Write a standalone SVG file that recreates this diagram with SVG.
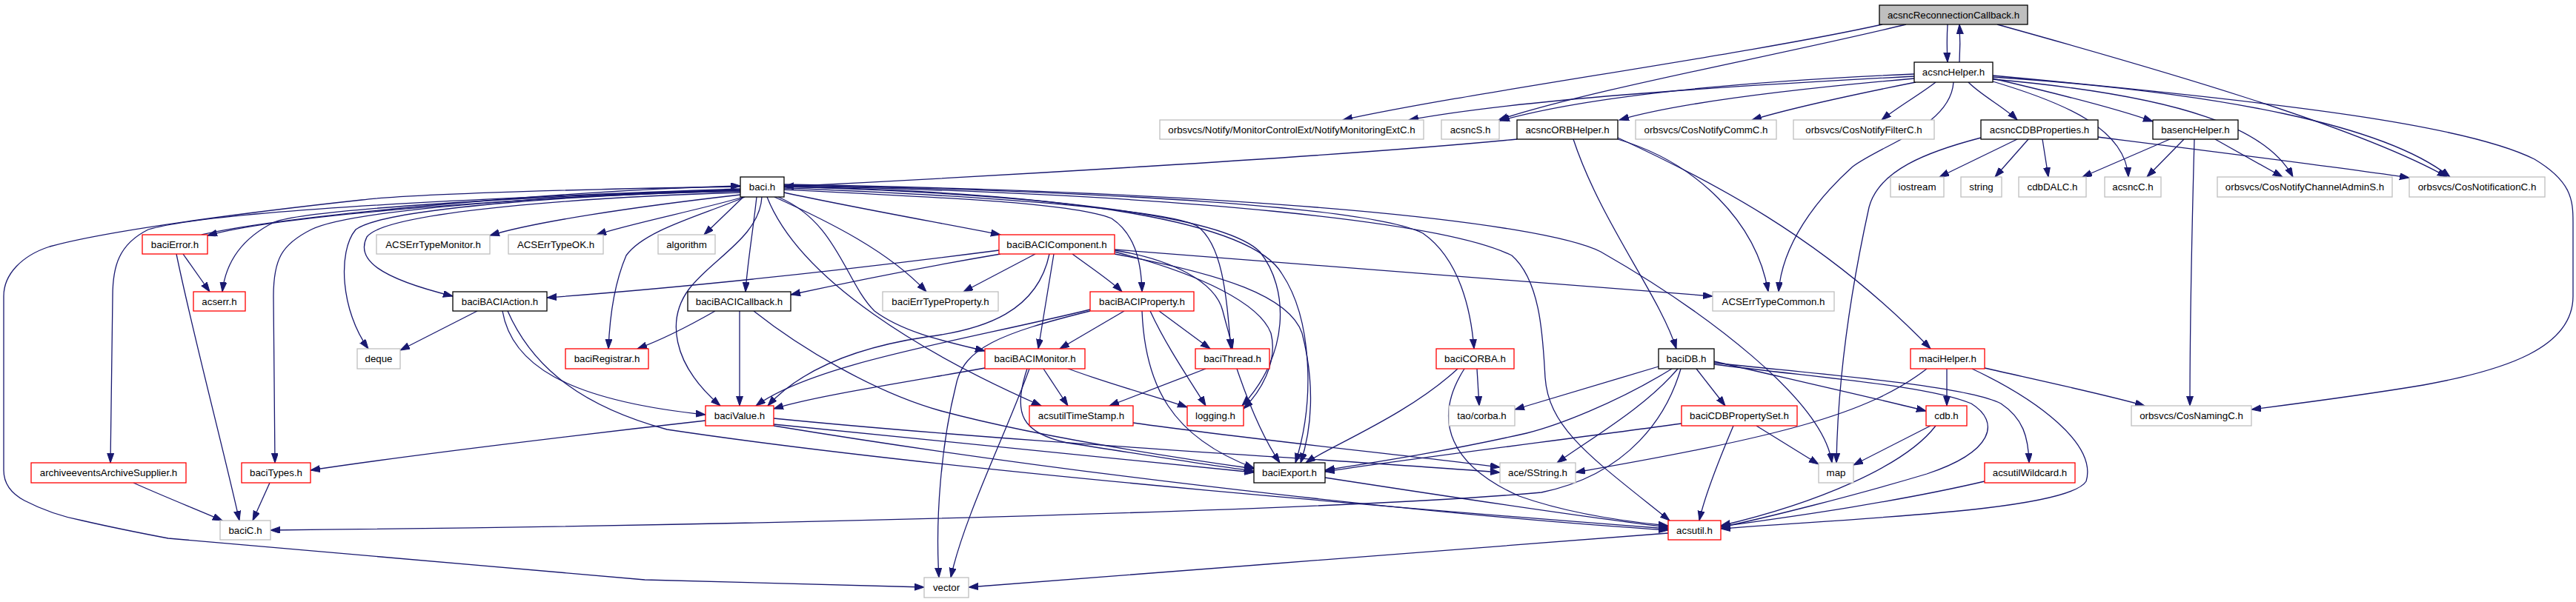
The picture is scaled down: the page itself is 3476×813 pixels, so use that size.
<svg xmlns="http://www.w3.org/2000/svg" width="3476" height="813" viewBox="0 0 3476 813">
<style>
.e{fill:none;stroke:#191970;stroke-width:1.3}
.k{fill:#fff;stroke:#000;stroke-width:1.3}
.r{fill:#fff;stroke:#ff0000;stroke-width:1.3}
.g{fill:#fff;stroke:#bfbfbf;stroke-width:1.3}
.root{fill:#bfbfbf;stroke:#000;stroke-width:1.3}
text{font-family:"Liberation Sans",Arial,sans-serif;font-size:13.3px;text-anchor:middle;fill:#000}
</style>
<defs>
<marker id="a" markerUnits="userSpaceOnUse" markerWidth="14" markerHeight="10" refX="13" refY="4.5" orient="auto"><path d="M0,0 L13,4.5 L0,9 z" fill="#191970" stroke="#191970" stroke-width="1"/></marker>
</defs>
<rect width="3476" height="813" fill="#fff"/>
<g id="edges" marker-end="url(#a)">
<path class="e" d="M2628,33 C2627,50 2627,65 2628,84"/>
<path class="e" d="M2644,84 C2645,67 2645,50 2644,33"/>
<path class="e" d="M2540,33 C2350,75 1980,125 1812,162"/>
<path class="e" d="M2572,33 C2400,75 2150,120 2022,162"/>
<path class="e" d="M2695,33 C2900,90 3180,170 3302,239"/>
<path class="e" d="M2583,103 C2300,118 2050,135 1901,162"/>
<path class="e" d="M2583,100 C2350,110 2150,128 2024,163"/>
<path class="e" d="M2583,106 C2400,122 2260,140 2185,162"/>
<path class="e" d="M2585,111 C2490,130 2410,148 2364,162"/>
<path class="e" d="M2612,111 C2590,128 2560,145 2539,162"/>
<path class="e" d="M2656,111 C2675,130 2705,145 2722,162"/>
<path class="e" d="M2689,106 C2770,125 2860,148 2905,164"/>
<path class="e" d="M2689,110 C2790,140 2868,175 2872,239"/>
<path class="e" d="M2689,107 C2950,130 3060,175 3094,239"/>
<path class="e" d="M2689,104 C3000,125 3220,170 3306,239"/>
<path class="e" d="M2689,102 C3100,140 3330,170 3420,215 C3470,245 3472,270 3472,300 L3472,400 C3472,470 3380,500 3270,520 C3180,535 3100,545 3038,553"/>
<path class="e" d="M2636,111 C2632,170 2540,195 2500,225 C2450,270 2405,330 2400,394"/>
<path class="e" d="M2673,186 C2600,205 2535,230 2522,280 C2500,380 2480,500 2478,625"/>
<path class="e" d="M2722,188 L2617,239"/>
<path class="e" d="M2737,188 L2692,239"/>
<path class="e" d="M2756,188 L2764,239"/>
<path class="e" d="M2831,185 C2950,200 3150,225 3251,240"/>
<path class="e" d="M2928,188 L2810,239"/>
<path class="e" d="M2947,188 L2897,239"/>
<path class="e" d="M2989,188 L3080,239"/>
<path class="e" d="M2961,188 C2958,300 2955,450 2955,548"/>
<path class="e" d="M2047,188 C1800,212 1300,240 1058,252"/>
<path class="e" d="M2123,188 C2160,300 2240,400 2262,471"/>
<path class="e" d="M2183,188 C2290,220 2370,300 2386,394"/>
<path class="e" d="M2183,186 C2300,240 2460,320 2605,471"/>
<path class="e" d="M999,258 C800,262 400,285 280,318"/>
<path class="e" d="M272,317 C400,288 800,256 999,251"/>
<path class="e" d="M999,252 C800,255 550,262 488,270 C350,285 150,310 67,333 C30,345 5,370 5,400 L5,635 C5,655 18,668 33,676 C60,690 85,698 111,703 C150,712 190,720 227,727 L870,783 L1247,793"/>
<path class="e" d="M999,255 C800,262 300,280 200,310 C160,330 152,360 152,400 L149,625"/>
<path class="e" d="M999,256 C800,262 420,280 370,300 C330,320 305,350 300,394"/>
<path class="e" d="M999,258 C800,262 520,280 480,310 C455,340 460,420 497,471"/>
<path class="e" d="M999,260 C800,266 520,285 495,320 C480,350 510,375 611,400"/>
<path class="e" d="M999,257 C800,262 480,280 420,310 C380,330 369,350 369,400 L371,625"/>
<path class="e" d="M999,263 C850,280 720,300 661,318"/>
<path class="e" d="M1003,266 C950,282 850,302 805,317"/>
<path class="e" d="M1005,266 C950,290 870,310 845,345 C830,380 823,420 821,471"/>
<path class="e" d="M1003,266 L950,317"/>
<path class="e" d="M1021,266 C1015,320 1008,360 1006,394"/>
<path class="e" d="M1028,266 C1025,320 960,350 930,390 C900,430 905,490 972,548"/>
<path class="e" d="M1045,266 C1120,300 1200,340 1250,394"/>
<path class="e" d="M1058,260 C1150,280 1280,303 1350,317"/>
<path class="e" d="M1035,266 C1080,380 1250,480 1405,548"/>
<path class="e" d="M1050,266 C1130,300 1140,380 1180,420 C1220,450 1280,462 1329,474"/>
<path class="e" d="M1058,256 C1300,268 1450,275 1500,295 C1530,315 1540,350 1541,394"/>
<path class="e" d="M1058,254 C1350,265 1580,285 1615,305 C1650,330 1655,400 1661,471"/>
<path class="e" d="M1058,252 C1400,262 1650,290 1700,340 C1740,390 1740,480 1676,548"/>
<path class="e" d="M1058,252 C1450,260 1690,300 1730,370 C1770,430 1775,540 1748,625"/>
<path class="e" d="M1058,250 C1500,258 1850,280 1920,315 C1970,350 1985,420 1989,471"/>
<path class="e" d="M1058,251 C1600,262 1950,300 2040,345 C2080,380 2082,460 2085,510 C2090,580 2150,620 2253,703"/>
<path class="e" d="M1058,249 C1700,260 2080,300 2160,340 C2300,420 2460,540 2472,625"/>
<path class="e" d="M247,343 L283,394"/>
<path class="e" d="M238,343 C260,450 300,600 323,703"/>
<path class="e" d="M180,652 C220,670 270,690 300,703"/>
<path class="e" d="M364,652 L341,703"/>
<path class="e" d="M644,420 L540,473"/>
<path class="e" d="M678,420 C690,490 760,540 952,560"/>
<path class="e" d="M685,420 C720,500 790,550 900,580 C1300,640 2000,695 2251,714"/>
<path class="e" d="M965,420 C930,440 890,460 860,471"/>
<path class="e" d="M998,420 L998,548"/>
<path class="e" d="M1017,420 C1080,470 1180,530 1270,555 C1400,590 1600,620 1692,633"/>
<path class="e" d="M1348,338 C1100,370 900,390 738,402"/>
<path class="e" d="M1350,343 C1250,360 1150,380 1067,398"/>
<path class="e" d="M1397,343 L1300,394"/>
<path class="e" d="M1447,343 C1470,360 1500,380 1514,394"/>
<path class="e" d="M1422,343 L1401,471"/>
<path class="e" d="M1416,343 C1400,420 1330,445 1250,455 C1150,470 1080,500 1036,548"/>
<path class="e" d="M1504,338 C1580,350 1640,380 1650,420 C1655,440 1660,455 1663,471"/>
<path class="e" d="M1504,340 C1620,370 1700,410 1715,450 C1725,490 1700,530 1678,552"/>
<path class="e" d="M1504,343 C1650,370 1740,400 1757,450 C1775,520 1770,580 1755,625"/>
<path class="e" d="M1504,337 C1800,360 2100,385 2311,400"/>
<path class="e" d="M1517,420 L1430,471"/>
<path class="e" d="M1564,420 L1633,471"/>
<path class="e" d="M1552,420 C1575,470 1610,520 1627,548"/>
<path class="e" d="M1541,420 C1545,520 1580,590 1692,632"/>
<path class="e" d="M1471,418 C1300,460 1100,490 1020,548"/>
<path class="e" d="M1471,420 C1350,450 1300,470 1290,520 C1270,600 1262,700 1267,780"/>
<path class="e" d="M1329,497 C1200,520 1100,535 1044,552"/>
<path class="e" d="M1408,498 L1441,548"/>
<path class="e" d="M1439,497 C1500,520 1560,535 1602,550"/>
<path class="e" d="M1389,498 C1360,580 1300,700 1283,780"/>
<path class="e" d="M1386,498 C1365,560 1380,585 1440,598 C1550,615 1640,630 1692,636"/>
<path class="e" d="M1627,498 L1497,548"/>
<path class="e" d="M1669,498 C1690,560 1710,600 1727,625"/>
<path class="e" d="M952,568 C800,585 550,615 419,635"/>
<path class="e" d="M1044,573 C1300,600 1550,625 1692,638"/>
<path class="e" d="M1044,565 C1400,600 1800,620 2024,638"/>
<path class="e" d="M1044,575 C1500,650 2000,700 2251,716"/>
<path class="e" d="M1529,571 C1700,595 1900,615 2024,631"/>
<path class="e" d="M1788,645 C1950,670 2150,700 2251,712"/>
<path class="e" d="M1993,498 L1996,548"/>
<path class="e" d="M1967,498 C1900,560 1800,600 1762,625"/>
<path class="e" d="M1976,498 C1930,570 1960,630 2050,670 C2120,695 2200,705 2251,710"/>
<path class="e" d="M2238,495 L2044,553"/>
<path class="e" d="M2256,498 C2180,545 2100,575 2060,585 C1950,610 1850,625 1788,635"/>
<path class="e" d="M2264,498 C2220,550 2150,590 2101,625"/>
<path class="e" d="M2268,498 C2250,560 2200,640 2080,665 C1800,690 1000,710 365,716"/>
<path class="e" d="M2289,498 L2328,548"/>
<path class="e" d="M2313,488 C2450,520 2540,540 2599,555"/>
<path class="e" d="M2313,490 C2450,505 2650,520 2700,545 C2730,565 2737,590 2738,625"/>
<path class="e" d="M2313,492 C2450,510 2600,520 2660,545 C2700,570 2690,610 2600,640 C2500,670 2380,700 2322,712"/>
<path class="e" d="M2269,572 C2100,595 1900,620 1788,637"/>
<path class="e" d="M2339,575 C2320,620 2300,670 2293,703"/>
<path class="e" d="M2370,575 L2454,627"/>
<path class="e" d="M2605,575 L2501,628"/>
<path class="e" d="M2612,575 C2570,630 2450,680 2322,710"/>
<path class="e" d="M2627,498 L2627,548"/>
<path class="e" d="M2600,498 C2520,560 2400,590 2126,638"/>
<path class="e" d="M2661,498 C2750,540 2830,600 2815,650 C2790,690 2500,700 2322,714"/>
<path class="e" d="M2678,497 C2780,520 2850,535 2894,548"/>
<path class="e" d="M2678,650 C2550,680 2400,700 2322,711"/>
<path class="e" d="M2251,720 C2000,740 1600,770 1307,793"/>
</g>
<g id="n1"><rect class="root" x="2536" y="7" width="200" height="26"/><text x="2636" y="25">acsncReconnectionCallback.h</text></g>
<g id="n2"><rect class="k" x="2583" y="84" width="106" height="27"/><text x="2636" y="102">acsncHelper.h</text></g>
<g id="n3"><rect class="g" x="1565" y="162" width="356" height="26"/><text x="1743" y="180">orbsvcs/Notify/MonitorControlExt/NotifyMonitoringExtC.h</text></g>
<g id="n4"><rect class="g" x="1945" y="162" width="78" height="26"/><text x="1984" y="180">acsncS.h</text></g>
<g id="n5"><rect class="k" x="2047" y="162" width="136" height="26"/><text x="2115" y="180">acsncORBHelper.h</text></g>
<g id="n6"><rect class="g" x="2207" y="162" width="190" height="26"/><text x="2302" y="180">orbsvcs/CosNotifyCommC.h</text></g>
<g id="n7"><rect class="g" x="2420" y="162" width="190" height="26"/><text x="2515" y="180">orbsvcs/CosNotifyFilterC.h</text></g>
<g id="n8"><rect class="k" x="2673" y="162" width="158" height="26"/><text x="2752" y="180">acsncCDBProperties.h</text></g>
<g id="n9"><rect class="k" x="2905" y="162" width="115" height="26"/><text x="2962.5" y="180">basencHelper.h</text></g>
<g id="n10"><rect class="k" x="999" y="239" width="59" height="27"/><text x="1028.5" y="257">baci.h</text></g>
<g id="n11"><rect class="g" x="2551" y="239" width="72" height="27"/><text x="2587" y="257">iostream</text></g>
<g id="n12"><rect class="g" x="2646" y="239" width="55" height="27"/><text x="2673.5" y="257">string</text></g>
<g id="n13"><rect class="g" x="2724" y="239" width="91" height="27"/><text x="2769.5" y="257">cdbDALC.h</text></g>
<g id="n14"><rect class="g" x="2840" y="239" width="76" height="27"/><text x="2878" y="257">acsncC.h</text></g>
<g id="n15"><rect class="g" x="2992" y="239" width="236" height="27"/><text x="3110" y="257">orbsvcs/CosNotifyChannelAdminS.h</text></g>
<g id="n16"><rect class="g" x="3251" y="239" width="183" height="27"/><text x="3342.5" y="257">orbsvcs/CosNotificationC.h</text></g>
<g id="n17"><rect class="r" x="192" y="317" width="88" height="26"/><text x="236" y="335">baciError.h</text></g>
<g id="n18"><rect class="g" x="508" y="317" width="153" height="26"/><text x="584.5" y="335">ACSErrTypeMonitor.h</text></g>
<g id="n19"><rect class="g" x="686" y="317" width="128" height="26"/><text x="750" y="335">ACSErrTypeOK.h</text></g>
<g id="n20"><rect class="g" x="888" y="317" width="77" height="26"/><text x="926.5" y="335">algorithm</text></g>
<g id="n21"><rect class="r" x="1348" y="317" width="156" height="26"/><text x="1426" y="335">baciBACIComponent.h</text></g>
<g id="n22"><rect class="r" x="261" y="394" width="70" height="26"/><text x="296" y="412">acserr.h</text></g>
<g id="n23"><rect class="k" x="611" y="394" width="127" height="26"/><text x="674.5" y="412">baciBACIAction.h</text></g>
<g id="n24"><rect class="k" x="928" y="394" width="139" height="26"/><text x="997.5" y="412">baciBACICallback.h</text></g>
<g id="n25"><rect class="g" x="1191" y="394" width="156" height="26"/><text x="1269" y="412">baciErrTypeProperty.h</text></g>
<g id="n26"><rect class="r" x="1471" y="394" width="140" height="26"/><text x="1541" y="412">baciBACIProperty.h</text></g>
<g id="n27"><rect class="g" x="2311" y="394" width="164" height="26"/><text x="2393" y="412">ACSErrTypeCommon.h</text></g>
<g id="n28"><rect class="g" x="482" y="471" width="58" height="27"/><text x="511" y="489">deque</text></g>
<g id="n29"><rect class="r" x="763" y="471" width="112" height="27"/><text x="819" y="489">baciRegistrar.h</text></g>
<g id="n30"><rect class="r" x="1329" y="471" width="135" height="27"/><text x="1396.5" y="489">baciBACIMonitor.h</text></g>
<g id="n31"><rect class="r" x="1613" y="471" width="100" height="27"/><text x="1663" y="489">baciThread.h</text></g>
<g id="n32"><rect class="r" x="1938" y="471" width="105" height="27"/><text x="1990.5" y="489">baciCORBA.h</text></g>
<g id="n33"><rect class="k" x="2238" y="471" width="75" height="27"/><text x="2275.5" y="489">baciDB.h</text></g>
<g id="n34"><rect class="r" x="2578" y="471" width="100" height="27"/><text x="2628" y="489">maciHelper.h</text></g>
<g id="n35"><rect class="r" x="42" y="625" width="209" height="27"/><text x="146.5" y="643">archiveeventsArchiveSupplier.h</text></g>
<g id="n36"><rect class="r" x="326" y="625" width="93" height="27"/><text x="372.5" y="643">baciTypes.h</text></g>
<g id="n37"><rect class="r" x="952" y="548" width="92" height="27"/><text x="998" y="566">baciValue.h</text></g>
<g id="n38"><rect class="r" x="1389" y="548" width="140" height="27"/><text x="1459" y="566">acsutilTimeStamp.h</text></g>
<g id="n39"><rect class="r" x="1602" y="548" width="76" height="27"/><text x="1640" y="566">logging.h</text></g>
<g id="n40"><rect class="g" x="1955" y="548" width="89" height="27"/><text x="1999.5" y="566">tao/corba.h</text></g>
<g id="n41"><rect class="r" x="2269" y="548" width="156" height="27"/><text x="2347" y="566">baciCDBPropertySet.h</text></g>
<g id="n42"><rect class="r" x="2599" y="548" width="55" height="27"/><text x="2626.5" y="566">cdb.h</text></g>
<g id="n43"><rect class="g" x="2876" y="548" width="162" height="27"/><text x="2957" y="566">orbsvcs/CosNamingC.h</text></g>
<g id="n44"><rect class="k" x="1692" y="625" width="96" height="27"/><text x="1740" y="643">baciExport.h</text></g>
<g id="n45"><rect class="g" x="2024" y="625" width="102" height="27"/><text x="2075" y="643">ace/SString.h</text></g>
<g id="n46"><rect class="g" x="2454" y="625" width="47" height="27"/><text x="2477.5" y="643">map</text></g>
<g id="n47"><rect class="r" x="2678" y="625" width="122" height="27"/><text x="2739" y="643">acsutilWildcard.h</text></g>
<g id="n48"><rect class="g" x="297" y="703" width="68" height="26"/><text x="331" y="721">baciC.h</text></g>
<g id="n49"><rect class="r" x="2251" y="703" width="71" height="26"/><text x="2286.5" y="721">acsutil.h</text></g>
<g id="n50"><rect class="g" x="1247" y="780" width="60" height="27"/><text x="1277" y="798">vector</text></g>
</svg>
